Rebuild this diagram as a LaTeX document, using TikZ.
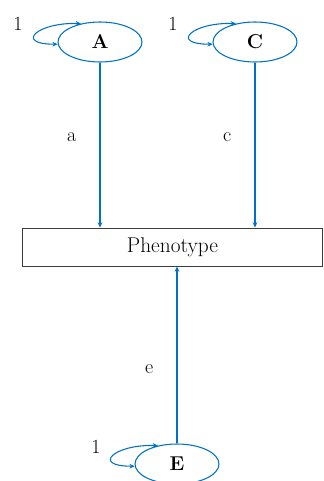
\documentclass[tikz,border=0pt]{standalone}
\usepackage{tikz}
\usetikzlibrary{arrows.meta,shapes.geometric}
\definecolor{azulsem}{RGB}{0,114,198}
\definecolor{grisborde}{RGB}{60,60,60}

\begin{document}
\begin{tikzpicture}[
  x=0.75pt,y=-0.75pt,
  latent/.style={draw=azulsem,thick,ellipse,minimum width=63pt,minimum height=30pt,
                 inner sep=0pt,font=\fontsize{15}{18}\selectfont\bfseries},
  fenotipo/.style={draw=grisborde,semithick,minimum width=225.5pt,minimum height=28.5pt,
                 inner sep=0pt,font=\fontsize{16}{19}\selectfont},
  ar/.style={-{Stealth[length=4pt,width=3.5pt]},azulsem,thick},
  var/.style={{Stealth[length=4pt,width=3.5pt]}-{Stealth[length=4pt,width=3.5pt]},azulsem,thick},
  etiq/.style={font=\fontsize{15}{18}\selectfont,text=black}
]
\useasboundingbox (0,0) rectangle (324,481);

\node[latent] (A) at (100,42) {A};
\node[latent] (C) at (255,42) {C};
\node[fenotipo] (pheno) at (172.5,247) {Phenotype};
\node[latent] (E) at (177,464) {E};

\node[etiq] (uA) at (18,24) {1};
\node[etiq] (uC) at (173,24) {1};
\node[etiq] (uE) at (96,447) {1};

\draw[var] (A.136) to[out=178,in=180,looseness=3.6] (A.183);
\draw[var] (C.136) to[out=178,in=180,looseness=3.6] (C.183);
\draw[var] (E.136) to[out=178,in=180,looseness=3.6] (E.183);

\draw[ar] (A) -- (A |- pheno.north) node[etiq,pos=0.45,left=14pt] {a};
\draw[ar] (C) -- (C |- pheno.north) node[etiq,pos=0.45,left=14pt] {c};
\draw[ar] (E) -- (E |- pheno.south) node[etiq,pos=0.42,left=14pt] {e};
\end{tikzpicture}
\end{document}
